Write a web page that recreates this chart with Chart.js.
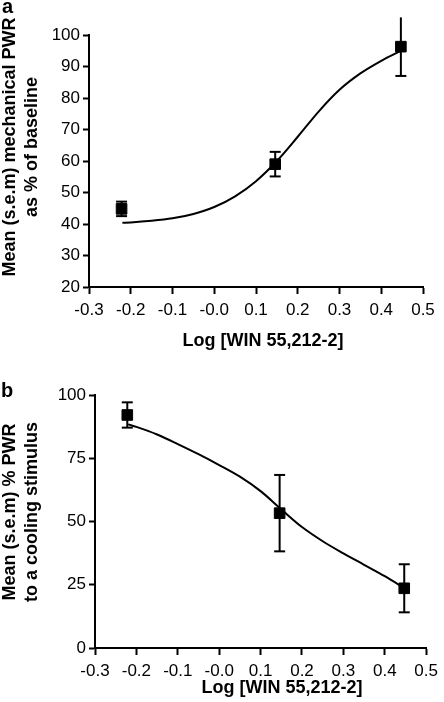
<!DOCTYPE html>
<html>
<head>
<meta charset="utf-8">
<script src="https://cdn.jsdelivr.net/npm/chart.js@4/dist/chart.umd.min.js"></script>
<style>
  html, body { margin: 0; padding: 0; background: #fff; }
  body { width: 444px; height: 702px; position: relative; overflow: hidden;
         font-family: "Liberation Sans", Arial, sans-serif; color: #000; }
  canvas { position: absolute; left: 0; }
  #chartA { top: 0; }
  #chartB { top: 350px; }
  .panel { position: absolute; font-weight: bold; font-size: 20px; line-height: 20px; }
  .ytitle { position: absolute; font-weight: bold; font-size: 18px; line-height: 22px;
            white-space: nowrap; text-align: center;
            transform: translate(-50%, -50%) rotate(-90deg); }
  .xtitle { position: absolute; font-weight: bold; font-size: 18px; line-height: 18px;
            white-space: nowrap; transform: translateX(-50%); }
</style>
</head>
<body>
<canvas id="chartA" width="444" height="350"></canvas>
<canvas id="chartB" width="444" height="352"></canvas>

<div class="panel" style="left:2px; top:-4px;">a</div>
<div class="ytitle" style="left:20px; top:147px;">Mean (s.e.m) mechanical PWR<br>as % of baseline</div>
<div class="xtitle" style="left:263px; top:331px;">Log [WIN 55,212-2]</div>

<div class="panel" style="left:1px; top:380px;">b</div>
<div class="ytitle" style="left:20px; top:512px;">Mean (s.e.m) % PWR<br>to a cooling stimulus</div>
<div class="xtitle" style="left:282px; top:678px;">Log [WIN 55,212-2]</div>

<script>
// doses (log) shared by both panels
const logDose = [-0.222, 0.146, 0.447];

// panel a: mechanical PWR, % of baseline
const mechMean = [44.8, 59.0, 96.3];
const mechSem  = [2.3, 3.9, 9.3];

// panel b: PWR to cooling stimulus
const coolMean = [92.1, 53.3, 23.6];
const coolSem  = [5.0, 15.1, 9.5];

// fitted curves
const curveX    = [-0.22, -0.2, -0.15, -0.1, -0.05, 0.0, 0.05, 0.1, 0.15, 0.2, 0.25, 0.3, 0.35, 0.4, 0.45];
const mechCurve = [40.4, 40.5, 41.0, 41.8, 43.2, 45.4, 48.8, 53.6, 60.0, 67.7, 75.7, 82.6, 87.8, 91.8, 95.2];
const coolCurve = [88.4, 87.4, 84.4, 80.6, 76.6, 72.3, 67.7, 62.0, 54.8, 47.8, 42.2, 37.4, 32.9, 28.4, 23.4];

const xTicks      = [-0.3, -0.2, -0.1, 0.0, 0.1, 0.2, 0.3, 0.4, 0.5];
const xTickLabels = ["-0.3", "-0.2", "-0.1", "-0.0", "0.1", "0.2", "0.3", "0.4", "0.5"];
const yTicksA     = [20, 30, 40, 50, 60, 70, 80, 90, 100];
const yTicksB     = [0, 25, 50, 75, 100];

const FONT = "'Liberation Sans', Arial, sans-serif";

function makeDatasets(mean, sem, curve) {
  const sets = [{
    data: logDose.map((x, i) => ({ x, y: mean[i] })),
    pointStyle: "rect",
    pointRadius: 7.5,
    pointBackgroundColor: "#000",
    pointBorderColor: "#000",
    pointBorderWidth: 1,
    showLine: false,
    clip: false,
  }];
  logDose.forEach((x, i) => {
    sets.push({
      data: [{ x, y: mean[i] - sem[i] }, { x, y: mean[i] + sem[i] }],
      showLine: true,
      borderColor: "#000",
      borderWidth: 2,
      pointStyle: "line",
      pointRadius: 5.5,
      pointBorderColor: "#000",
      pointBorderWidth: 2,
      clip: false,
    });
  });
  sets.push({
    data: curveX.map((x, i) => ({ x, y: curve[i] })),
    showLine: true,
    borderColor: "#000",
    borderWidth: 2,
    pointRadius: 0,
    cubicInterpolationMode: "monotone",
    clip: false,
  });
  return sets;
}

function makeChart(id, mean, sem, curve, yTicks, geo) {
  const ctx = document.getElementById(id).getContext("2d");
  return new Chart(ctx, {
    type: "scatter",
    data: { datasets: makeDatasets(mean, sem, curve) },
    options: {
      responsive: false,
      animation: false,
      devicePixelRatio: 1,
      layout: { padding: { top: geo.top, right: geo.right, left: 0, bottom: 0 } },
      plugins: { legend: { display: false }, tooltip: { enabled: false } },
      scales: {
        x: {
          type: "linear",
          min: -0.3, max: 0.5,
          afterBuildTicks: s => { s.ticks = xTicks.map(v => ({ value: v })); },
          afterFit: s => { s.height = geo.xh; },
          border: { color: "#000", width: 2 },
          grid: { drawOnChartArea: false, color: "#000", tickLength: 7, tickWidth: 2 },
          ticks: {
            color: "#000", padding: 6, maxRotation: 0, autoSkip: false,
            font: { family: FONT, size: 17 },
            callback: (v, i) => xTickLabels[i],
          },
        },
        y: {
          type: "linear",
          min: yTicks[0], max: yTicks[yTicks.length - 1],
          afterBuildTicks: s => { s.ticks = yTicks.map(v => ({ value: v })); },
          afterFit: s => { s.width = geo.yw; },
          border: { color: "#000", width: 2 },
          grid: { drawOnChartArea: false, color: "#000", tickLength: 6, tickWidth: 2 },
          ticks: {
            color: "#000", padding: 3,
            font: { family: FONT, size: 17 },
            callback: v => String(v),
          },
        },
      },
    },
  });
}

makeChart("chartA", mechMean, mechSem, mechCurve, yTicksA, { top: 35, right: 21, xh: 63, yw: 89 });
makeChart("chartB", coolMean, coolSem, coolCurve, yTicksB, { top: 45, right: 12, xh: 54, yw: 95 });
</script>
</body>
</html>
